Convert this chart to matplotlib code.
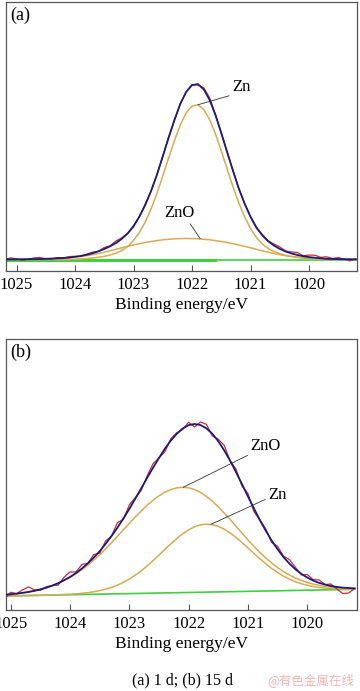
import numpy as np
import matplotlib.pyplot as plt

plt.rcParams['font.family'] = ['Liberation Serif', 'DejaVu Serif']

### Binding energy grid (eV), shared by both spectra
ENERGY = [1025.2, 1025.1, 1025.0, 1024.9, 1024.8, 1024.7, 1024.6, 1024.5, 1024.4, 1024.3,
          1024.2, 1024.1, 1024.0, 1023.9, 1023.8, 1023.7, 1023.6, 1023.5, 1023.4, 1023.3,
          1023.2, 1023.1, 1023.0, 1022.9, 1022.8, 1022.7, 1022.6, 1022.5, 1022.4, 1022.3,
          1022.2, 1022.1, 1022.0, 1021.9, 1021.8, 1021.7, 1021.6, 1021.5, 1021.4, 1021.3,
          1021.2, 1021.1, 1021.0, 1020.9, 1020.8, 1020.7, 1020.6, 1020.5, 1020.4, 1020.3,
          1020.2, 1020.1, 1020.0, 1019.9, 1019.8, 1019.7, 1019.6, 1019.5, 1019.4, 1019.3,
          1019.2]
TICKS = [1025, 1024, 1023, 1022, 1021, 1020]

### Panel (a), 1 d: flat background and the two fitted components (a.u.)
BG_A = 11.5
ZN_A = [0, 0, 0, 0, 0, 0, 0, 0, 0, 0,
        0, 0, 0.3, 0.6, 1.0, 1.5, 2.2, 3.2, 4.5, 6.3,
        9.0, 13.0, 19.0, 27.0, 37.5, 50.5, 66.0, 83.5, 101.5, 119.0,
        134.7, 146.6, 153.5, 154.7, 150.0, 140.0, 125.7, 108.6, 90.5, 72.8,
        56.5, 42.5, 31.0, 22.0, 15.5, 11.0, 8.0, 5.8, 4.2, 3.0,
        2.1, 1.4, 0.9, 0.6, 0.3, 0, 0, 0, 0, 0,
        0]
ZNO_A = [0.1, 0.1, 0.15, 0.2, 0.3, 0.4, 0.5, 0.7, 0.9, 1.2,
         1.5, 1.9, 2.4, 3.0, 3.8, 4.8, 6.0, 7.3, 8.7, 10.2,
         11.7, 13.1, 14.5, 15.8, 17.0, 18.0, 18.9, 19.7, 20.2, 20.7,
         20.9, 21.0, 20.9, 20.7, 20.2, 19.7, 18.9, 18.0, 17.0, 15.8,
         14.5, 13.1, 11.7, 10.2, 8.7, 7.3, 6.0, 4.8, 3.8, 3.0,
         2.4, 1.9, 1.5, 1.2, 0.9, 0.7, 0.5, 0.4, 0.3, 0.2,
         0.15]
# measured minus fit
RESID_A = [0, 1.5, 0.5, -1, 0, 1.2, 1.5, 0, -0.5, 0.8,
           0, 1.0, 0.5, -0.5, 0.5, 1.0, 0, 1.5, 0.5, 2.0,
           1.0, 0, -1, 0.5, 1, 0, -0.5, 0, 1, -0.5,
           0.5, 0, 0.5, -1, 1.5, 2.0, 0.5, -0.5, 0, 1,
           -0.5, 0.5, 0, -1, 1, 0.5, 1.5, 2.0, 0.5, 1.5,
           2.5, 0.5, 2.0, 2.5, 1.0, 2.0, 0.5, 1.5, 0, -1.5,
           0.5]

### Panel (b), 15 d: sloped background and the two fitted components (a.u.)
BG_B_LEFT = 6.9
BG_B_RIGHT = 13.7
ZN_B = [0, 0, 0, 0, 0, 0, 0, 0, 0, 0.1,
        0.2, 0.4, 0.5, 0.8, 1.2, 1.8, 2.5, 3.5, 4.9, 6.6,
        8.7, 11.4, 14.5, 18.3, 22.5, 27.3, 32.5, 37.9, 43.5, 49.0,
        54.1, 58.8, 62.6, 65.6, 67.4, 68.0, 67.4, 65.6, 62.6, 58.8,
        54.1, 49.0, 43.5, 37.9, 32.5, 27.3, 22.5, 18.3, 14.5, 11.4,
        8.7, 6.6, 4.9, 3.5, 2.5, 1.8, 1.2, 0.8, 0.5, 0.4,
        0.2]
ZNO_B = [0.9, 1.2, 1.6, 2.1, 2.8, 3.6, 4.6, 5.9, 7.5, 9.4,
         11.6, 14.3, 17.3, 20.8, 24.8, 29.3, 34.2, 39.5, 45.2, 51.3,
         57.5, 63.9, 70.2, 76.5, 82.4, 88.0, 92.9, 97.2, 100.7, 103.2,
         104.8, 105.3, 104.7, 102.8, 99.8, 95.8, 90.8, 85.1, 78.8, 72.2,
         65.3, 58.3, 51.5, 45.0, 38.8, 33.1, 27.9, 23.2, 19.1, 15.5,
         12.5, 9.9, 7.8, 6.0, 4.6, 3.5, 2.6, 1.9, 1.4, 1.0,
         0.7]
RESID_B = [-3, -4, 2, 0, 3, 5, 1, -1, 1, 0,
           -2, 3, 5, 1, 4, 0, 3, -2, 3, 0,
           5, -1, 4, 1, -2, 2, 4, 0, -3, 2,
           1, -1, 3, -3, 3, 4, -2, 2, 5, 0,
           3, -2, 3, -3, 0, 2, -2, 3, 1, 4,
           2, -1, 3, 1, 3, 0, 2, -2, -6, -5,
           0]

RAW_COLOR = '#cc2a3a'
FIT_COLOR = '#1c1c78'
PEAK_COLOR = '#d8aa52'
BG_COLOR = '#3fcf3f'
FRAME_COLOR = '#555555'


def draw_panel(ax, bg, zn, zno, resid, xlim, ylim, tag, notes, bg_thick_end):
    energy = np.array(ENERGY)
    zn_line = bg + np.array(zn)
    zno_line = bg + np.array(zno)
    envelope = bg + np.array(zn) + np.array(zno)
    raw = envelope + np.array(resid)

    # background: heavier on the high energy side as in the original
    thick = energy >= bg_thick_end
    ax.plot(energy[thick], bg[thick], color=BG_COLOR, lw=2.2, zorder=1)
    ax.plot(energy, bg, color=BG_COLOR, lw=1.2, zorder=1)

    ax.plot(energy, zn_line, color=PEAK_COLOR, lw=1.1, zorder=2)
    ax.plot(energy, zno_line, color=PEAK_COLOR, lw=1.1, zorder=2)
    ax.plot(energy, raw, color=RAW_COLOR, lw=0.9, zorder=3)
    ax.plot(energy, envelope, color=FIT_COLOR, lw=1.3, zorder=4)

    for text, xy, xytext, ha, rel in notes:
        ax.annotate(text, xy=xy, xytext=xytext, ha=ha, va='bottom', fontsize=12,
                    arrowprops=dict(arrowstyle='-', color='#333333', lw=0.6,
                                    shrinkA=0, shrinkB=0, relpos=rel))

    ax.text(0.012, 0.952, tag, transform=ax.transAxes, fontsize=13,
            ha='left', va='center')

    ax.set_xlim(*xlim)
    ax.set_ylim(*ylim)
    ax.set_xticks(TICKS)
    ax.set_yticks([])
    ax.tick_params(axis='x', direction='in', length=4, width=0.8,
                   color=FRAME_COLOR, labelsize=12, pad=4)
    for spine in ax.spines.values():
        spine.set_color(FRAME_COLOR)
        spine.set_linewidth(0.9)
    ax.set_xlabel('Binding energy/eV', fontsize=12.5, labelpad=3)


fig = plt.figure(figsize=(3.6, 6.91), dpi=100)
ax_a = fig.add_axes([6 / 360, 420 / 691, 351 / 360, 269 / 691])
ax_b = fig.add_axes([6 / 360, 81 / 691, 351 / 360, 271 / 691])

bg_a = np.full(len(ENERGY), BG_A)
draw_panel(ax_a, bg_a, ZN_A, ZNO_A, RESID_A,
           (1025.18, 1019.18), (0, 269), '(a)',
           [('Zn', (1021.90, 166.2), (1021.32, 176), 'left', (0, 0)),
            ('ZnO', (1021.86, 32.3), (1022.22, 50), 'center', (0.8, 0))],
           1021.6)

bg_b = np.linspace(BG_B_LEFT, BG_B_RIGHT, len(ENERGY))
draw_panel(ax_b, bg_b, ZN_B, ZNO_B, RESID_B,
           (1025.08, 1019.16), (-7, 264), '(b)',
           [('ZnO', (1022.09, 115.7), (1020.96, 149), 'left', (0, 0)),
            ('Zn', (1021.63, 78.5), (1020.66, 100), 'left', (0, 0.3))],
           1030)

fig.text(182 / 360, 1 - 680 / 691, '(a) 1 d; (b) 15 d', fontsize=11.5,
         ha='center', va='center')
fig.text(311 / 360, 1 - 680 / 691, '@有色金属在线', fontsize=9, color='#f2b4b4',
         ha='center', va='center', family=['Noto Sans CJK SC', 'DejaVu Sans'])

fig.savefig('out.png', dpi=100, facecolor='white')
